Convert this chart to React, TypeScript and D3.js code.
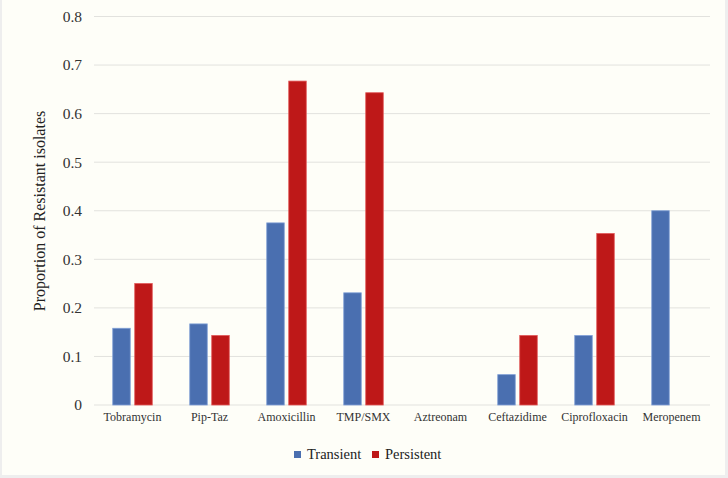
import React from "react";
import * as d3 from "d3";

const categories = ["Tobramycin", "Pip-Taz", "Amoxicillin", "TMP/SMX", "Aztreonam", "Ceftazidime", "Ciprofloxacin", "Meropenem"];
const transient = [0.158, 0.167, 0.375, 0.231, 0, 0.0625, 0.143, 0.4];
const persistent = [0.25, 0.143, 0.667, 0.643, 0, 0.143, 0.353, 0];
const yTicks = [0, 0.1, 0.2, 0.3, 0.4, 0.5, 0.6, 0.7, 0.8];
const seriesNames = ["Transient", "Persistent"];
const colors = ["#4a6fb0", "#be1818"];
const strokes = ["#7f9fd6", "#e05555"];

const W = 728, H = 478;
const left = 94, right = 710, top = 16.5, bottom = 405;
const font = "Liberation Serif, DejaVu Serif, serif";

export default function App() {
  const x = d3.scaleBand<string>().domain(categories).range([left, right]).paddingInner(0).paddingOuter(0);
  const y = d3.scaleLinear().domain([0, 0.8]).range([bottom, top]);
  const barW = 17.5;
  const gap = 4.5;
  const series = [transient, persistent];
  return (
    <svg width={W} height={H} style={{ position: "fixed", left: 0, top: 0, fontFamily: font }}>
      <rect x={0} y={0} width={W} height={H} fill="#eeeeee" />
      <rect x={2} y={0} width={723} height={475} fill="#fefef8" />
      {yTicks.map((t) => (
        <g key={t}>
          <line x1={left} x2={right} y1={y(t)} y2={y(t)} stroke="#e2e2de" strokeWidth={1} />
          <text x={82} y={y(t)} dy="0.35em" textAnchor="end" style={{ fontFamily: font }} fontSize={15.5} fill="#333">
            {d3.format("")(t)}
          </text>
        </g>
      ))}
      {categories.map((c, i) => {
        const cx = x(c)! + x.bandwidth() / 2;
        return (
          <g key={c}>
            {series.map((s, k) => {
              const v = s[i];
              if (v <= 0) return null;
              const bx = k === 0 ? cx - gap / 2 - barW : cx + gap / 2;
              return (
                <rect key={k} x={bx} y={y(v)} width={barW} height={y(0) - y(v)} fill={colors[k]} stroke={strokes[k]} strokeWidth={0.8} />
              );
            })}
            <text x={cx} y={421} textAnchor="middle" style={{ fontFamily: font }} fontSize={12} fill="#333">{c}</text>
          </g>
        );
      })}
      <text transform={`translate(45,211) rotate(-90)`} textAnchor="middle" style={{ fontFamily: font }} fontSize={16} fill="#222">
        Proportion of Resistant isolates
      </text>
      {seriesNames.map((n, k) => {
        const lx = k === 0 ? 294 : 372;
        return (
          <g key={n}>
            <rect x={lx} y={451} width={7} height={7} fill={colors[k]} />
            <text x={lx + 13} y={459} style={{ fontFamily: font }} fontSize={14.5} fill="#222">{n}</text>
          </g>
        );
      })}
    </svg>
  );
}
